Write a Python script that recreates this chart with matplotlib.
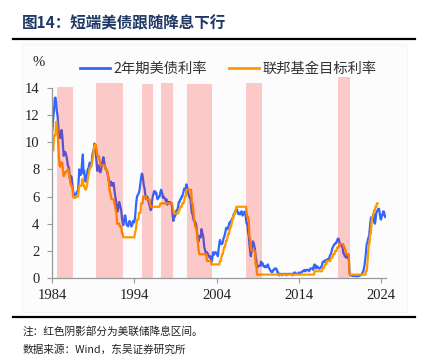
import numpy as np
import matplotlib
matplotlib.use("Agg")
import matplotlib.pyplot as plt
from matplotlib.lines import Line2D
from matplotlib.patches import Rectangle

# ---------------- data (monthly, starting Jan 1984) ----------------
start_year = 1984
ust2y = [
    10.6, 11.2, 11.9, 12.4, 13.2, 13.3, 12.9, 12.3, 12.0, 11.4, 10.7, 10.4,   # 1984
    10.3, 10.6, 10.9, 10.5, 9.7, 9.0, 9.1, 9.3, 9.2, 9.0, 8.7, 8.3,           # 1985
    8.2, 8.0, 7.4, 7.1, 7.5, 7.3, 6.8, 6.4, 6.2, 6.1, 6.1, 6.2,              # 1986
    6.3, 6.4, 6.4, 7.3, 8.0, 7.6, 7.6, 7.9, 8.6, 9.1, 7.7, 7.9,              # 1987
    7.3, 7.1, 7.4, 7.6, 8.0, 8.0, 8.3, 8.5, 8.4, 8.2, 8.6, 9.1,              # 1988
    9.3, 9.5, 9.9, 9.6, 9.1, 8.5, 7.9, 8.2, 8.3, 7.9, 7.8, 7.8,              # 1989
    8.1, 8.4, 8.7, 8.9, 8.6, 8.3, 8.1, 8.0, 7.9, 7.7, 7.4, 7.2,              # 1990
    6.9, 6.8, 7.1, 6.9, 6.8, 7.0, 7.0, 6.5, 6.1, 5.8, 5.5, 5.0,              # 1991
    4.9, 5.3, 5.6, 5.4, 5.2, 5.0, 4.4, 4.1, 3.9, 4.2, 4.6, 4.6,              # 1992
    4.2, 3.9, 3.9, 3.8, 4.0, 4.2, 4.1, 3.9, 3.8, 3.9, 4.2, 4.2,              # 1993
    4.1, 4.4, 5.0, 5.6, 6.0, 6.1, 6.2, 6.3, 6.6, 7.0, 7.4, 7.7,              # 1994
    7.6, 7.2, 6.8, 6.6, 6.2, 5.8, 5.9, 6.0, 5.8, 5.6, 5.4, 5.2,              # 1995
    5.0, 5.1, 5.7, 6.0, 6.2, 6.4, 6.4, 6.2, 6.3, 6.0, 5.8, 5.9,              # 1996
    6.0, 6.0, 6.3, 6.5, 6.4, 6.2, 5.9, 6.0, 5.9, 5.8, 5.7, 5.8,              # 1997
    5.4, 5.5, 5.6, 5.6, 5.6, 5.5, 5.5, 5.3, 4.6, 4.2, 4.6, 4.5,              # 1998
    4.6, 4.9, 5.0, 5.0, 5.3, 5.6, 5.6, 5.8, 5.8, 6.0, 6.0, 6.2,              # 1999
    6.4, 6.6, 6.5, 6.5, 6.9, 6.7, 6.5, 6.2, 6.0, 5.9, 5.8, 5.3,              # 2000
    4.8, 4.7, 4.4, 4.2, 4.2, 4.1, 4.0, 3.7, 3.1, 2.7, 2.7, 3.1,              # 2001
    3.0, 3.0, 3.6, 3.4, 3.2, 2.9, 2.3, 2.1, 1.9, 1.8, 1.9, 1.8,              # 2002
    1.7, 1.6, 1.5, 1.6, 1.4, 1.2, 1.5, 1.9, 1.7, 1.8, 1.9, 1.9,              # 2003
    1.8, 1.7, 1.6, 2.1, 2.5, 2.8, 2.6, 2.5, 2.5, 2.6, 2.9, 3.0,              # 2004
    3.2, 3.4, 3.7, 3.7, 3.6, 3.7, 3.9, 4.1, 4.0, 4.2, 4.3, 4.4,              # 2005
    4.4, 4.7, 4.7, 4.9, 5.0, 5.1, 5.0, 4.8, 4.7, 4.8, 4.7, 4.7,              # 2006
    4.9, 4.9, 4.6, 4.7, 4.8, 4.9, 4.8, 4.3, 4.0, 4.0, 3.4, 3.1,              # 2007
    2.5, 2.0, 1.6, 1.9, 2.4, 2.7, 2.6, 2.4, 2.1, 1.6, 1.3, 0.8,              # 2008
    0.8, 0.9, 0.9, 0.9, 0.9, 1.2, 1.0, 1.1, 0.9, 0.9, 0.8, 0.8,              # 2009
    0.9, 0.8, 0.9, 1.0, 0.8, 0.7, 0.6, 0.5, 0.5, 0.4, 0.5, 0.6,              # 2010
    0.6, 0.7, 0.7, 0.7, 0.6, 0.4, 0.4, 0.2, 0.2, 0.3, 0.3, 0.3,              # 2011
    0.2, 0.3, 0.3, 0.3, 0.3, 0.3, 0.2, 0.3, 0.3, 0.3, 0.3, 0.3,              # 2012
    0.3, 0.3, 0.3, 0.2, 0.3, 0.4, 0.3, 0.4, 0.3, 0.3, 0.3, 0.3,              # 2013
    0.4, 0.3, 0.4, 0.4, 0.4, 0.5, 0.5, 0.5, 0.6, 0.5, 0.5, 0.6,              # 2014
    0.6, 0.6, 0.6, 0.5, 0.6, 0.7, 0.7, 0.7, 0.7, 0.6, 0.9, 1.0,              # 2015
    0.9, 0.7, 0.9, 0.8, 0.8, 0.7, 0.7, 0.7, 0.8, 0.8, 1.0, 1.2,              # 2016
    1.2, 1.2, 1.3, 1.2, 1.3, 1.3, 1.4, 1.3, 1.4, 1.6, 1.7, 1.8,              # 2017
    2.0, 2.2, 2.3, 2.4, 2.5, 2.5, 2.6, 2.6, 2.8, 2.9, 2.9, 2.7,              # 2018
    2.5, 2.5, 2.4, 2.3, 2.2, 1.8, 1.8, 1.6, 1.6, 1.5, 1.6, 1.6,              # 2019
    1.5, 1.3, 0.5, 0.2, 0.2, 0.2, 0.15, 0.15, 0.13, 0.15, 0.17, 0.15,        # 2020
    0.13, 0.12, 0.15, 0.16, 0.15, 0.2, 0.2, 0.22, 0.25, 0.4, 0.5, 0.7,      # 2021
    1.0, 1.4, 1.9, 2.5, 2.6, 2.9, 3.0, 3.3, 3.9, 4.4, 4.5, 4.3,              # 2022
    4.3, 4.7, 4.1, 4.0, 4.3, 4.8, 4.9, 5.0, 5.1, 5.1, 4.8, 4.4,              # 2023
    4.3, 4.6, 4.6, 4.9, 4.9, 4.7, 4.5,                                       # 2024
]
fed_target = [
    9.4, 9.4, 9.4, 10.5, 10.5, 10.5, 11.5, 11.5, 11.0, 10.0, 9.0, 8.3,        # 1984
    8.2, 8.5, 8.5, 8.5, 7.9, 7.5, 7.6, 7.8, 7.8, 7.8, 7.9, 8.0,              # 1985
    8.0, 7.8, 7.3, 7.0, 6.8, 6.8, 6.5, 6.0, 5.9, 5.9, 5.9, 6.0,              # 1986
    6.0, 6.0, 6.0, 6.5, 6.8, 6.8, 6.8, 6.8, 7.3, 7.2, 6.8, 6.8,              # 1987
    6.6, 6.5, 6.6, 6.8, 7.2, 7.5, 7.8, 8.1, 8.1, 8.2, 8.4, 8.7,              # 1988
    9.0, 9.5, 9.8, 9.8, 9.8, 9.5, 9.0, 9.0, 9.0, 8.8, 8.5, 8.3,              # 1989
    8.3, 8.3, 8.3, 8.3, 8.3, 8.3, 8.0, 8.0, 8.0, 7.8, 7.5, 7.0,              # 1990
    6.5, 6.3, 6.0, 5.8, 5.8, 5.8, 5.8, 5.5, 5.3, 5.0, 4.8, 4.0,              # 1991
    4.0, 4.0, 4.0, 3.8, 3.8, 3.8, 3.3, 3.3, 3.0, 3.0, 3.0, 3.0,              # 1992
    3.0, 3.0, 3.0, 3.0, 3.0, 3.0, 3.0, 3.0, 3.0, 3.0, 3.0, 3.0,              # 1993
    3.0, 3.3, 3.5, 3.8, 4.3, 4.3, 4.3, 4.8, 4.8, 4.8, 5.5, 5.5,              # 1994
    5.5, 6.0, 6.0, 6.0, 6.0, 6.0, 5.8, 5.8, 5.8, 5.8, 5.8, 5.5,              # 1995
    5.25, 5.25, 5.25, 5.25, 5.25, 5.25, 5.25, 5.25, 5.25, 5.25, 5.25, 5.25,  # 1996
    5.25, 5.25, 5.5, 5.5, 5.5, 5.5, 5.5, 5.5, 5.5, 5.5, 5.5, 5.5,            # 1997
    5.5, 5.5, 5.5, 5.5, 5.5, 5.5, 5.5, 5.5, 5.25, 5.0, 4.75, 4.75,           # 1998
    4.75, 4.75, 4.75, 4.75, 4.75, 5.0, 5.0, 5.25, 5.25, 5.25, 5.5, 5.5,      # 1999
    5.5, 5.75, 6.0, 6.0, 6.5, 6.5, 6.5, 6.5, 6.5, 6.5, 6.5, 6.5,             # 2000
    5.5, 5.5, 5.0, 4.5, 4.0, 3.75, 3.75, 3.5, 3.0, 2.5, 2.0, 1.75,           # 2001
    1.75, 1.75, 1.75, 1.75, 1.75, 1.75, 1.75, 1.75, 1.75, 1.75, 1.25, 1.25,  # 2002
    1.25, 1.25, 1.25, 1.25, 1.25, 1.0, 1.0, 1.0, 1.0, 1.0, 1.0, 1.0,         # 2003
    1.0, 1.0, 1.0, 1.0, 1.0, 1.25, 1.25, 1.5, 1.75, 1.75, 2.0, 2.25,         # 2004
    2.25, 2.5, 2.75, 2.75, 3.0, 3.25, 3.25, 3.5, 3.75, 3.75, 4.0, 4.25,      # 2005
    4.5, 4.5, 4.75, 4.75, 5.0, 5.25, 5.25, 5.25, 5.25, 5.25, 5.25, 5.25,     # 2006
    5.25, 5.25, 5.25, 5.25, 5.25, 5.25, 5.25, 5.25, 4.75, 4.5, 4.5, 4.25,    # 2007
    3.0, 3.0, 2.25, 2.0, 2.0, 2.0, 2.0, 2.0, 2.0, 1.0, 1.0, 0.25,            # 2008
    0.25, 0.25, 0.25, 0.25, 0.25, 0.25, 0.25, 0.25, 0.25, 0.25, 0.25, 0.25,  # 2009
    0.25, 0.25, 0.25, 0.25, 0.25, 0.25, 0.25, 0.25, 0.25, 0.25, 0.25, 0.25,  # 2010
    0.25, 0.25, 0.25, 0.25, 0.25, 0.25, 0.25, 0.25, 0.25, 0.25, 0.25, 0.25,  # 2011
    0.25, 0.25, 0.25, 0.25, 0.25, 0.25, 0.25, 0.25, 0.25, 0.25, 0.25, 0.25,  # 2012
    0.25, 0.25, 0.25, 0.25, 0.25, 0.25, 0.25, 0.25, 0.25, 0.25, 0.25, 0.25,  # 2013
    0.25, 0.25, 0.25, 0.25, 0.25, 0.25, 0.25, 0.25, 0.25, 0.25, 0.25, 0.25,  # 2014
    0.25, 0.25, 0.25, 0.25, 0.25, 0.25, 0.25, 0.25, 0.25, 0.25, 0.25, 0.5,   # 2015
    0.5, 0.5, 0.5, 0.5, 0.5, 0.5, 0.5, 0.5, 0.5, 0.5, 0.5, 0.75,             # 2016
    0.75, 0.75, 1.0, 1.0, 1.0, 1.25, 1.25, 1.25, 1.25, 1.25, 1.25, 1.5,      # 2017
    1.5, 1.5, 1.75, 1.75, 1.75, 2.0, 2.0, 2.0, 2.25, 2.25, 2.25, 2.5,        # 2018
    2.5, 2.5, 2.5, 2.5, 2.5, 2.5, 2.25, 2.25, 2.0, 1.75, 1.75, 1.75,         # 2019
    1.75, 1.75, 0.25, 0.25, 0.25, 0.25, 0.25, 0.25, 0.25, 0.25, 0.25, 0.25,  # 2020
    0.25, 0.25, 0.25, 0.25, 0.25, 0.25, 0.25, 0.25, 0.25, 0.25, 0.25, 0.25,  # 2021
    0.25, 0.25, 0.5, 0.5, 1.0, 1.75, 2.5, 2.5, 3.25, 3.25, 4.0, 4.5,         # 2022
    4.5, 4.75, 5.0, 5.0, 5.25, 5.25, 5.5, 5.5,                               # 2023
]
# easing periods (red shading): start, end (decimal years), bar height
ease_start = [1984.6, 1989.3, 1995.0, 1997.25, 2000.4, 2007.6, 2018.75]
ease_end = [1986.6, 1992.6, 1996.25, 1998.7, 2003.5, 2009.5, 2020.2]
ease_top = [14.1, 14.4, 14.3, 14.4, 14.3, 14.4, 14.8]

xticks = [1984, 1994, 2004, 2014, 2024]
yticks = [0, 2, 4, 6, 8, 10, 12, 14]
label_2y = "2年期美债利率"
label_ff = "联邦基金目标利率"
title = "图14：短端美债跟随降息下行"
note1 = "注：红色阴影部分为美联储降息区间。"
note2 = "数据来源：Wind，东吴证券研究所"

# ---------------- figure ----------------
W, H = 425, 363
fig = plt.figure(figsize=(W / 100, H / 100), dpi=100)
fig.patch.set_facecolor("white")

# faint panel background
bg = Rectangle((22 / W, 1 - 312 / H), (407 - 22) / W, (312 - 44) / H,
               transform=fig.transFigure, facecolor="#fcfcfc",
               edgecolor="#f3f3f3", linewidth=0.6, zorder=-5)
fig.patches.append(bg)

ax = fig.add_axes([52 / W, 1 - 278 / H, (386 - 52) / W, (278 - 88) / H])
ax.set_zorder(5)
ax.set_facecolor("none")

t_blue = start_year + np.arange(len(ust2y)) / 12.0
t_orng = start_year + np.arange(len(fed_target)) / 12.0

ax.plot(t_blue, ust2y, color="#3366FF", lw=1.6, zorder=2, label=label_2y)
ax.plot(t_orng, fed_target, color="#FF9900", lw=1.6, zorder=2.5, label=label_ff)

ax.bar(ease_start, ease_top, width=np.array(ease_end) - np.array(ease_start),
       align="edge", color="#FF0000", alpha=0.2, linewidth=0, zorder=3, clip_on=False)

ax.set_xlim(1984, 2024.6)
ax.set_ylim(0, 14)
ax.set_xticks(xticks)
ax.set_yticks(yticks)

serif = "Liberation Serif"
ax.set_xticklabels([str(v) for v in xticks], fontfamily=serif, fontsize=10.5, color="#222222")
ax.set_yticklabels([str(v) for v in yticks], fontfamily=serif, fontsize=10.5, color="#222222")
ax.tick_params(axis="both", direction="out", length=3.5, width=0.8, color="#999999")
ax.tick_params(axis="x", pad=4.5)
ax.tick_params(axis="y", pad=5.5)
for side in ["top", "right"]:
    ax.spines[side].set_visible(False)
for side in ["left", "bottom"]:
    ax.spines[side].set_color("#999999")
    ax.spines[side].set_linewidth(0.9)

fig.text(39 / W, 1 - 63 / H, "%", fontfamily=serif, fontsize=10.5, color="#222222",
         ha="center", va="center")

leg = ax.legend(loc="center left", bbox_to_anchor=((80 - 52) / 334, (278 - 69) / 190),
                ncol=2, frameon=False, handlelength=2.1, handletextpad=0.25,
                columnspacing=1.55, borderaxespad=0, borderpad=0,
                prop={"family": ["Noto Sans CJK SC", "DejaVu Sans"], "size": 10.3})
for txt in leg.get_texts():
    txt.set_color("#333333")
for ln in leg.get_lines():
    ln.set_linewidth(2.0)

cjk = ["Noto Sans CJK SC", "DejaVu Sans"]
fig.text(22 / W, 1 - 23 / H, title, fontfamily=cjk, fontsize=11.2, fontweight="bold",
         color="#1F3864", ha="left", va="center")
fig.add_artist(Line2D([13 / W, 415 / W], [1 - 38.5 / H, 1 - 38.5 / H], color="black", lw=1.6))
fig.add_artist(Line2D([13 / W, 415 / W], [1 - 316.5 / H, 1 - 316.5 / H], color="black", lw=1.6))

fig.text(23 / W, 1 - 331 / H, note1, fontfamily=cjk, fontsize=7.7, color="#222222",
         ha="left", va="center")
fig.text(23 / W, 1 - 350 / H, note2, fontfamily=cjk, fontsize=7.7, color="#222222",
         ha="left", va="center")

fig.savefig("out.png", dpi=100)
